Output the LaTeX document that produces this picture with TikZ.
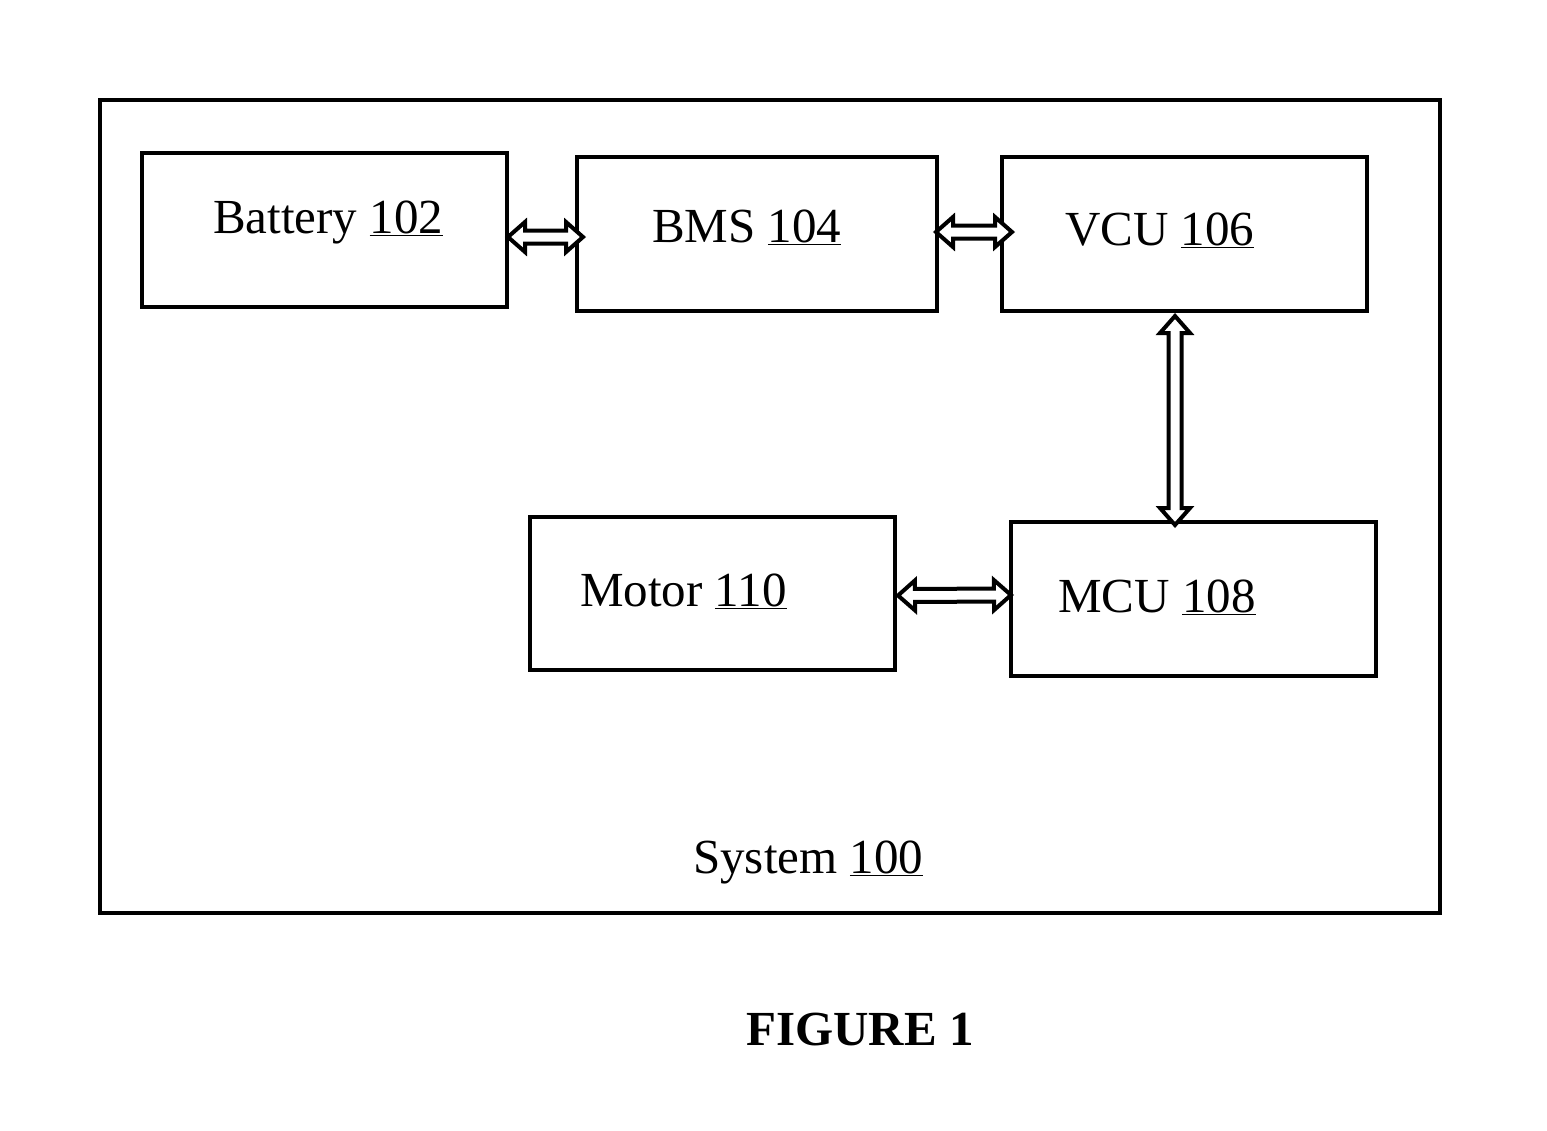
\documentclass[tikz,border=0pt]{standalone}
\usepackage{fontspec}
\setmainfont{Liberation Serif}
\usetikzlibrary{calc}
\begin{document}
\begin{tikzpicture}[x=1pt,y=-1pt,
  box/.style={draw, line width=4pt, inner sep=0pt},
  lbl/.style={anchor=base west, inner sep=0pt, font=\fontsize{49}{55}\selectfont},
  blk/.style={draw, line width=4pt, fill=white, to path={
    let \p1=(\tikztostart), \p2=(\tikztotarget),
        \n1={atan2(\y2-\y1,\x2-\x1)}, \n2={veclen(\x2-\x1,\y2-\y1)} in
    [shift={(\p1)}, rotate=\n1]
    (0,0) -- (17,15) -- (17,6.5) -- (\n2-17,6.5) -- (\n2-17,15) -- (\n2,0)
    -- (\n2-17,-15) -- (\n2-17,-6.5) -- (17,-6.5) -- (17,-15) -- cycle}}]
\useasboundingbox (0,0) rectangle (1547,1130);
\node[box, minimum width=1340, minimum height=813] (sys) at (770,506.5) {};
\node[box, minimum width=365, minimum height=154] (bat) at (324.5,230) {};
\node[box, minimum width=360, minimum height=154] (bms) at (757,234) {};
\node[box, minimum width=365, minimum height=154] (vcu) at (1184.5,234) {};
\node[box, minimum width=365, minimum height=154] (mcu) at (1193.5,599) {};
\node[box, minimum width=365, minimum height=153] (mot) at (712.5,593.5) {};
\node[lbl] (tbat) at (213,233) {Battery \underline{102}};
\node[lbl] (tbms) at (652,242) {BMS \underline{104}};
\node[lbl] (tvcu) at (1065,245) {VCU \underline{106}};
\node[lbl] (tmot) at (580,606) {Motor \underline{110}};
\node[lbl] (tmcu) at (1058,612) {MCU \underline{108}};
\node[lbl] (tsys) at (693,873) {System \underline{100}};
\node[lbl, font=\fontsize{49}{55}\selectfont\bfseries] (fig) at (746,1045) {FIGURE 1};
\draw[blk] ($(bat.east)+(-1,7)$) to ($(bms.west)+(8,3)$);
\draw[blk] ($(bms.east)+(-3,-2)$) to ($(vcu.west)+(12,-2)$);
\draw[blk] ($(vcu.south)+(-9.5,3)$) to ($(mcu.north)+(-18.5,5)$);
\draw[blk] ($(mot.east)+(1,2)$) to ($(mcu.west)+(2,-4)$);
\end{tikzpicture}
\end{document}
